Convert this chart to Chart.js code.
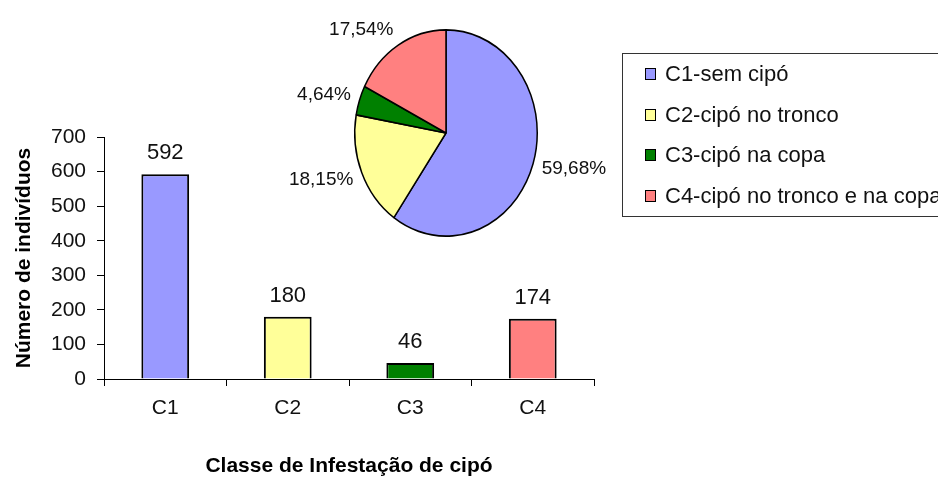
<!DOCTYPE html>
<html lang="pt">
<head>
  <meta charset="UTF-8">
  <title>Classe de Infestação de cipó</title>
  <style>
    body { margin: 0; background: #fff; font-family: "Liberation Sans", Arial, sans-serif; }
    #wrap { position: relative; width: 938px; height: 479px; overflow: hidden; }
    canvas { position: absolute; }
    #bars { left: 0; top: 0; }
    #pie { left: 276px; top: 0; }
    #legend {
      position: absolute; left: 622px; top: 53px; width: 340px; height: 162px;
      border: 1px solid #333;
    }
    .item { height: 40.5px; display: flex; align-items: center; padding-left: 22px; font-size: 22px; color: #111; white-space: nowrap; }
    .box { width: 9px; height: 10px; border: 1px solid #000; margin-right: 9px; flex: none; }
  </style>
</head>
<body>
  <div id="wrap">
    <canvas id="bars" width="938" height="479"></canvas>
    <canvas id="pie" width="340" height="266"></canvas>
    <div id="legend"></div>
  </div>

  <script src="https://cdn.jsdelivr.net/npm/chart.js"></script>
  <script>
    // data
    const categories = ['C1', 'C2', 'C3', 'C4'];
    const counts = [592, 180, 46, 174];
    const classNames = ['C1-sem cipó', 'C2-cipó no tronco', 'C3-cipó na copa', 'C4-cipó no tronco e na copa'];
    const colors = ['#9999ff', '#ffff99', '#008000', '#ff8080'];

    Chart.defaults.font.family = '"Liberation Sans", Arial, sans-serif';
    Chart.defaults.color = '#111';

    // numbers above the bars
    const barValues = {
      id: 'barValues',
      afterDatasetsDraw(chart) {
        const ctx = chart.ctx;
        ctx.save();
        ctx.font = '22px "Liberation Sans", Arial, sans-serif';
        ctx.fillStyle = '#111';
        ctx.textAlign = 'center';
        ctx.textBaseline = 'alphabetic';
        chart.getDatasetMeta(0).data.forEach((bar, i) => {
          ctx.fillText(String(counts[i]), bar.x, bar.y - 15);
        });
        ctx.restore();
      }
    };

    new Chart(document.getElementById('bars'), {
      type: 'bar',
      data: {
        labels: categories,
        datasets: [{
          data: counts,
          backgroundColor: colors,
          borderColor: '#000',
          borderWidth: 2,
          barPercentage: 0.39,
          categoryPercentage: 1
        }]
      },
      options: {
        responsive: false,
        animation: false,
        layout: { padding: { left: 0, right: 344, top: 137, bottom: 0 } },
        plugins: { legend: { display: false }, tooltip: { enabled: false } },
        scales: {
          x: {
            grid: { drawOnChartArea: false, tickLength: 7, color: '#000', offset: true },
            border: { color: '#000' },
            ticks: { padding: 10, font: { size: 21 } },
            title: {
              display: true, text: 'Classe de Infestação de cipó', color: '#000',
              font: { size: 21, weight: 'bold' }, padding: 0
            },
            afterFit: s => { s.height = 100; }
          },
          y: {
            min: 0, max: 700,
            grid: { drawOnChartArea: false, tickLength: 7, color: '#000' },
            border: { color: '#000' },
            ticks: { stepSize: 100, padding: 11, font: { size: 21 } },
            title: {
              display: true, text: 'Número de indivíduos', color: '#000',
              font: { size: 21, weight: 'bold' }, padding: { top: 12, bottom: 0 }
            },
            afterFit: s => { s.width = 104; }
          }
        }
      },
      plugins: [barValues]
    });

    // the pie in the figure is a bit taller than wide
    const STRETCH = 1.13;
    const pieStretch = {
      id: 'pieStretch',
      beforeDatasetsDraw(chart) {
        const arc = chart.getDatasetMeta(0).data[0];
        const ctx = chart.ctx;
        ctx.save();
        ctx.translate(arc.x, arc.y);
        ctx.scale(1, STRETCH);
        ctx.translate(-arc.x, -arc.y);
      },
      afterDatasetsDraw(chart) {
        const ctx = chart.ctx;
        ctx.restore();
        const total = counts.reduce((a, b) => a + b, 0);
        ctx.save();
        ctx.font = '19px "Liberation Sans", Arial, sans-serif';
        ctx.fillStyle = '#111';
        ctx.textBaseline = 'middle';
        chart.getDatasetMeta(0).data.forEach((arc, i) => {
          const mid = (arc.startAngle + arc.endAngle) / 2;
          const dx = Math.cos(mid), dy = Math.sin(mid);
          const x = arc.x + dx * (arc.outerRadius + 9);
          const y = arc.y + dy * (arc.outerRadius * STRETCH + 8) + dy * 10;
          ctx.textAlign = dx >= 0 ? 'left' : 'right';
          const pct = (counts[i] / total * 100).toFixed(2).replace('.', ',') + '%';
          ctx.fillText(pct, x, y);
        });
        ctx.restore();
      }
    };

    new Chart(document.getElementById('pie'), {
      type: 'pie',
      data: {
        labels: classNames,
        datasets: [{ data: counts, backgroundColor: colors, borderColor: '#000', borderWidth: 1.5 }]
      },
      options: {
        responsive: false,
        animation: false,
        layout: { padding: { left: 78, right: 78, top: 41, bottom: 41 } },
        plugins: { legend: { display: false }, tooltip: { enabled: false } }
      },
      plugins: [pieStretch]
    });

    // legend box on the right
    const legend = document.getElementById('legend');
    classNames.forEach((name, i) => {
      const row = document.createElement('div');
      row.className = 'item';
      const box = document.createElement('span');
      box.className = 'box';
      box.style.background = colors[i];
      row.appendChild(box);
      row.appendChild(document.createTextNode(name));
      legend.appendChild(row);
    });
  </script>
</body>
</html>
